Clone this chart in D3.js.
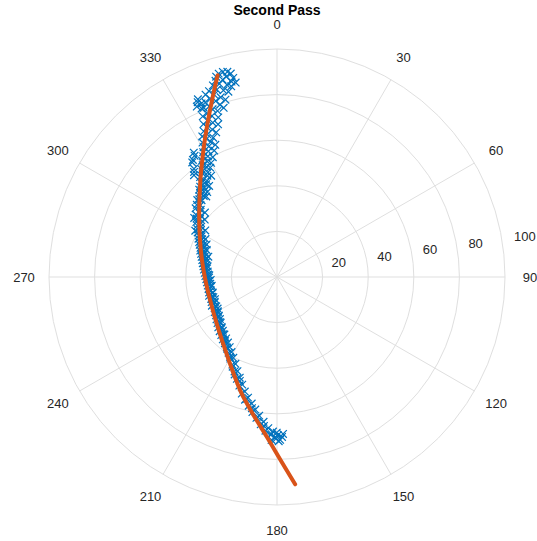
<!DOCTYPE html>
<html>
<head>
<meta charset="utf-8">
<script src="https://cdn.jsdelivr.net/npm/d3@7"></script>
<style>
  body { margin: 0; background: #fff; }
  text { font-family: "Liberation Sans", Arial, Helvetica, sans-serif; fill: #262626; }
</style>
</head>
<body>
<svg id="chart" width="537" height="541"></svg>
<script>
// ---- data ----
const titleText = "Second Pass";
const angleTicks = [0, 30, 60, 90, 120, 150, 180, 210, 240, 270, 300, 330];
const radiusTicks = [20, 40, 60, 80, 100];

// fitted curve (theta in degrees, r)
const fitTheta = [343.6, 340.1, 335.0, 330.9, 325.9, 321.7, 316.0, 311.1, 306.3, 299.9, 294.9, 289.5, 279.9, 270, 259.4, 249.1, 240.2, 227.7, 217.2, 209.7, 201.7, 196.4, 189.7, 183.6, 178.9, 175.0];
const fitR = [92.26, 83.26, 72.72, 65.85, 58.93, 54.21, 48.88, 45.26, 42.33, 39.16, 37.18, 35.46, 33.13, 31.67, 30.97, 31.12, 32.0, 34.56, 38.35, 42.43, 48.62, 53.94, 61.4, 70.32, 80.28, 91.27];

// measured points [theta, r]
const scatterTop = [
  [344.0, 92.8], [345.2, 93.0], [346.4, 92.6], [347.2, 91.5], [343.1, 91.8], [345.8, 90.6], [347.6, 89.4],
  [342.6, 90.2], [344.6, 89.8], [346.9, 88.0], [348.0, 87.2], [343.4, 88.4], [341.5, 88.6], [345.4, 87.1],
  [346.5, 86.0], [342.2, 86.3], [339.9, 86.8], [344.0, 85.2], [338.6, 85.9], [336.0, 85.3], [335.6, 84.2],
  [334.8, 82.6], [336.5, 83.0], [335.9, 81.0],
  [341.0, 84.6], [345.3, 84.0], [339.5, 83.4], [342.6, 82.6], [337.7, 82.8], [340.8, 81.7], [343.8, 81.0],
  [338.3, 80.5], [336.6, 80.9], [341.7, 79.6], [339.0, 78.8], [336.9, 78.0], [340.3, 77.4], [342.5, 77.8],
  [335.2, 77.6], [338.0, 76.2], [336.2, 75.1], [339.8, 74.6], [334.3, 74.4], [337.4, 73.3], [335.0, 72.4],
  [338.9, 71.8], [333.3, 71.5], [336.3, 70.6], [334.0, 69.6], [332.0, 69.8], [337.2, 68.8], [333.0, 68.0],
  [335.4, 67.2], [331.0, 67.4], [333.9, 66.0], [330.5, 65.4], [326.2, 65.6], [325.8, 64.3], [332.4, 64.6],
  [324.3, 63.2], [323.5, 62.5], [321.7, 58.7], [322.5, 59.8], [320.8, 57.6],
  [335.0, 64.0], [329.4, 63.6], [331.4, 62.8], [333.6, 61.9], [328.5, 62.0], [330.2, 61.0], [327.2, 60.7],
  [331.8, 59.6], [328.9, 59.2], [326.4, 58.9], [330.0, 57.8], [327.4, 57.3], [325.0, 57.6], [328.6, 56.2],
  [324.3, 55.9], [326.5, 55.0], [322.4, 55.3], [325.5, 53.9], [323.0, 53.6], [327.0, 53.0], [321.2, 52.9],
  [324.0, 52.1], [319.6, 52.0], [322.6, 51.2], [318.3, 51.3], [320.9, 50.4], [323.3, 49.8], [317.6, 50.0],
  [319.4, 49.3], [316.2, 49.1], [320.6, 48.2], [317.9, 47.9], [315.0, 48.2], [318.7, 47.0]
];
const scatterMid = [
  [315.5, 47.2], [314.0, 48.6], [313.2, 46.0], [312.0, 47.3], [311.4, 44.6], [310.2, 46.7], [309.5, 44.1],
  [308.8, 42.8], [307.6, 44.9], [307.0, 42.3], [306.0, 43.6], [305.5, 44.6], [305.4, 41.0], [304.3, 42.8],
  [303.6, 39.9], [303.0, 37.5], [302.8, 41.6], [301.7, 39.2], [301.0, 40.6], [300.2, 38.2], [299.5, 41.2],
  [299.3, 39.9], [298.4, 37.6], [298.0, 35.5], [297.8, 38.9], [296.7, 36.8], [296.0, 38.3], [295.1, 35.9],
  [294.8, 34.0], [294.2, 37.4], [293.5, 35.2], [292.6, 36.7], [291.7, 34.6], [291.0, 33.0], [290.9, 35.9],
  [289.8, 33.9], [289.0, 35.6], [288.1, 33.4], [287.0, 34.8], [286.5, 31.4], [286.1, 32.9], [285.0, 34.2],
  [284.5, 31.9], [283.9, 32.3], [282.8, 33.6], [281.7, 31.8], [280.5, 33.1], [279.4, 31.4], [278.8, 30.8],
  [278.2, 32.6], [277.0, 30.9], [275.8, 32.2], [274.5, 30.5], [273.3, 31.7], [272.0, 30.2], [271.4, 29.7],
  [270.8, 31.4], [269.5, 29.8], [268.2, 31.0], [267.5, 29.1], [266.9, 29.6], [265.6, 30.8], [264.3, 29.4],
  [263.0, 30.6], [262.3, 28.9], [261.6, 29.3], [260.2, 30.5], [311.8, 42.4], [308.5, 40.5]
];
const scatterLow = [
  [258.5, 29.6], [257.2, 30.5], [256.4, 29.0], [255.8, 29.2], [254.5, 30.9], [253.1, 29.8], [252.4, 29.3],
  [251.7, 30.4], [250.3, 28.9], [249.0, 30.7], [248.3, 29.4], [247.6, 29.6], [246.2, 31.2], [244.8, 29.9],
  [244.1, 29.6], [243.4, 30.6], [242.0, 29.5], [240.6, 31.3], [240.0, 30.0], [239.2, 30.2], [237.8, 31.6],
  [236.4, 30.6], [236.0, 30.9], [235.0, 32.4], [233.6, 31.1], [232.2, 33.0], [231.5, 31.8], [230.8, 31.9],
  [229.4, 33.9], [228.0, 32.7], [227.3, 33.0], [226.6, 34.6], [225.2, 33.5], [223.8, 35.3], [223.1, 34.4],
  [222.4, 34.2], [221.0, 36.2], [219.6, 35.0], [219.0, 36.2], [218.2, 37.0], [216.8, 35.9], [215.4, 37.9],
  [214.7, 38.3], [214.0, 37.1], [212.6, 39.4], [211.2, 38.5], [210.5, 40.6], [209.8, 41.2], [208.4, 40.3],
  [207.0, 43.1], [206.3, 43.9], [205.6, 42.2], [204.2, 45.4], [203.5, 46.6], [202.8, 44.8], [201.5, 48.0],
  [200.3, 47.1], [199.7, 48.4], [199.1, 50.4], [197.9, 49.6], [196.8, 53.4], [195.7, 52.2], [194.6, 55.6],
  [194.0, 55.1], [193.5, 54.4], [192.4, 57.8], [191.3, 56.6], [190.8, 58.6], [190.3, 60.2], [189.3, 58.9],
  [188.3, 62.4], [187.8, 62.0], [187.3, 61.3], [186.3, 65.0], [185.3, 63.8], [185.0, 65.6], [184.3, 67.6],
  [183.3, 66.4], [182.4, 69.2], [182.0, 69.0], [181.5, 67.8], [180.6, 70.3], [180.4, 71.0], [179.7, 69.4],
  [178.9, 71.4], [178.2, 70.2], [179.4, 72.0], [180.1, 68.3], [177.8, 68.9], [181.9, 71.5]
];

// ---- drawing ----
const svg = d3.select("#chart");
const cx = 277, cy = 277, outerR = 228;
const rScale = d3.scaleLinear().domain([0, 100]).range([0, outerR]);
const toRad = d => d * Math.PI / 180;

const g = svg.append("g").attr("transform", `translate(${cx},${cy})`);

// grid rings
g.selectAll(".ring")
  .data(radiusTicks)
  .enter()
  .append("circle")
  .attr("class", "ring")
  .attr("r", d => rScale(d))
  .attr("fill", "none")
  .attr("stroke", "#dfdfdf")
  .attr("stroke-width", 1);

// spokes
g.selectAll(".spoke")
  .data(angleTicks)
  .enter()
  .append("line")
  .attr("class", "spoke")
  .attr("x1", 0)
  .attr("y1", 0)
  .attr("x2", d => rScale(100) * Math.sin(toRad(d)))
  .attr("y2", d => -rScale(100) * Math.cos(toRad(d)))
  .attr("stroke", "#dfdfdf")
  .attr("stroke-width", 1);

// angle labels
const labelR = outerR + 25;
g.selectAll(".alabel")
  .data(angleTicks)
  .enter()
  .append("text")
  .attr("class", "alabel")
  .attr("x", d => labelR * Math.sin(toRad(d)))
  .attr("y", d => -labelR * Math.cos(toRad(d)))
  .attr("text-anchor", "middle")
  .attr("dominant-baseline", "central")
  .style("font-size", "13px")
  .text(d => d);

// radius labels (sit along the ~82 degree direction)
g.selectAll(".rlabel")
  .data(radiusTicks)
  .enter()
  .append("text")
  .attr("class", "rlabel")
  .attr("x", d => rScale(d) + 9)
  .attr("y", d => -7.8 - rScale(d) * 0.1425)
  .attr("dominant-baseline", "central")
  .style("font-size", "13px")
  .text(d => d);

// scatter markers
const allPoints = scatterTop.concat(scatterMid, scatterLow);
g.selectAll(".pt")
  .data(allPoints)
  .enter()
  .append("path")
  .attr("class", "pt")
  .attr("transform", d => {
    const r = rScale(d[1]);
    return "translate(" + r * Math.sin(toRad(d[0])) + "," + (-r * Math.cos(toRad(d[0]))) + ")";
  })
  .attr("d", "M-3.8,-3.8L3.8,3.8M-3.8,3.8L3.8,-3.8")
  .attr("fill", "none")
  .attr("stroke", "#0072BD")
  .attr("stroke-width", 1.2);

// fitted line on top
const fitData = fitTheta.map((t, i) => [t, fitR[i]]);
const radialLine = d3.lineRadial()
  .angle(d => toRad(d[0]))
  .radius(d => rScale(d[1]))
  .curve(d3.curveCatmullRom);

g.append("path")
  .datum(fitData)
  .attr("d", radialLine)
  .attr("fill", "none")
  .attr("stroke", "#D95319")
  .attr("stroke-width", 4)
  .attr("stroke-linecap", "round");

// title
svg.append("text")
  .attr("x", cx)
  .attr("y", 15)
  .attr("text-anchor", "middle")
  .style("font-size", "14px")
  .style("font-weight", "bold")
  .style("fill", "#000")
  .text(titleText);
</script>
</body>
</html>
